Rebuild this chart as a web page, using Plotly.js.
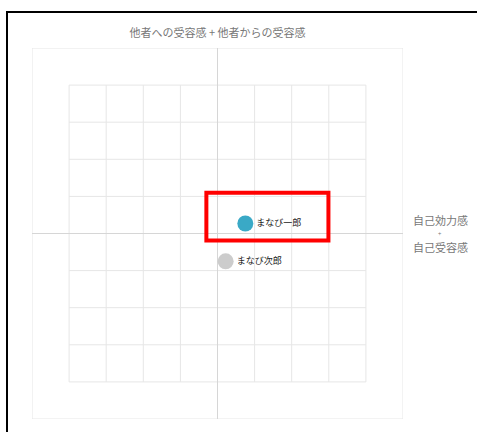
<!DOCTYPE html>
<html>
<head>
<meta charset="utf-8">
<script src="https://cdn.plot.ly/plotly-3.0.1.min.js"></script>
<style>
  body { margin: 0; background: #fff; }
  #wrap { position: relative; width: 477px; height: 432px; }
  #chart { position: absolute; left: 0; top: 0; width: 477px; height: 432px; }
  /* 枠線 (スクリーンショットの黒い縁) */
  #frame {
    position: absolute; left: 6px; top: 11px; width: 480px; height: 430px;
    border-left: 2px solid #000; border-top: 2px solid #000; pointer-events: none;
  }
</style>
</head>
<body>
<div id="wrap">
  <div id="chart"></div>
  <div id="frame"></div>
</div>
<script>
// データ
const names = ["まなび一郎", "まなび次郎"];
const xVals = [0.75, 0.22];
const yVals = [0.27, -0.75];
const colors = ["#3aa9c6", "#cccccc"];

const gridTicks = [-4, -3, -2, -1, 0, 1, 2, 3, 4];

// グリッド線
var shapes = [];
gridTicks.forEach(function(t) {
  shapes.push({type: "line", xref: "x", yref: "y", x0: t, x1: t, y0: -4, y1: 4,
    line: {color: "#e6e6e6", width: 1}, layer: "below"});
  shapes.push({type: "line", xref: "x", yref: "y", x0: -4, x1: 4, y0: t, y1: t,
    line: {color: "#e6e6e6", width: 1}, layer: "below"});
});
// 外枠と中心線
shapes.push({type: "rect", xref: "x", yref: "y", x0: -5, x1: 5, y0: -5, y1: 5,
  line: {color: "#e6e6e6", width: 1}, layer: "below"});
shapes.push({type: "line", xref: "x", yref: "y", x0: 0, x1: 0, y0: -5, y1: 5,
  line: {color: "#d6d6d6", width: 1}, layer: "below"});
shapes.push({type: "line", xref: "x", yref: "y", x0: -5, x1: 5, y0: 0, y1: 0,
  line: {color: "#d6d6d6", width: 1}, layer: "below"});
// 赤い囲み
shapes.push({type: "rect", xref: "x", yref: "y", x0: -0.3, x1: 2.99, y0: -0.19, y1: 1.1,
  line: {color: "#ff0000", width: 4}, layer: "above"});

const data = [{
  x: xVals, y: yVals, text: names,
  type: "scatter", mode: "markers+text",
  textposition: "middle right",
  textfont: {family: "Noto Sans CJK JP", size: 9, color: "#222"},
  marker: {size: 16, color: colors},
  hoverinfo: "none", cliponaxis: false
}];

// 右側のラベル
const labelFont = {family: "Noto Sans CJK JP", size: 11, color: "#777"};
const layout = {
  width: 477, height: 432,
  margin: {l: 32, r: 74, t: 48, b: 13},
  paper_bgcolor: "#fff", plot_bgcolor: "#fff",
  showlegend: false,
  title: {
    text: "他者への受容感 + 他者からの受容感",
    font: {family: "Noto Sans CJK JP", size: 11, color: "#777"},
    x: 0.5, xref: "paper", y: 1 - 33 / 432, yref: "container", yanchor: "middle"
  },
  xaxis: {range: [-5, 5], showgrid: false, zeroline: false, showticklabels: false, showline: false, fixedrange: true},
  yaxis: {range: [-5, 5], showgrid: false, zeroline: false, showticklabels: false, showline: false, fixedrange: true},
  shapes: shapes,
  annotations: [
    {text: "自己効力感", xref: "paper", yref: "y", x: 1.1, y: 0.36, xanchor: "center", yanchor: "middle",
      showarrow: false, borderpad: 0, font: labelFont},
    {text: "+", xref: "paper", yref: "y", x: 1.1, y: 0.0, xanchor: "center", yanchor: "middle",
      showarrow: false, borderpad: 0, font: {family: "Noto Sans CJK JP", size: 6, color: "#777"}},
    {text: "自己受容感", xref: "paper", yref: "y", x: 1.1, y: -0.36, xanchor: "center", yanchor: "middle",
      showarrow: false, borderpad: 0, font: labelFont}
  ]
};

Plotly.newPlot("chart", data, layout, {displayModeBar: false, staticPlot: true});
</script>
</body>
</html>
